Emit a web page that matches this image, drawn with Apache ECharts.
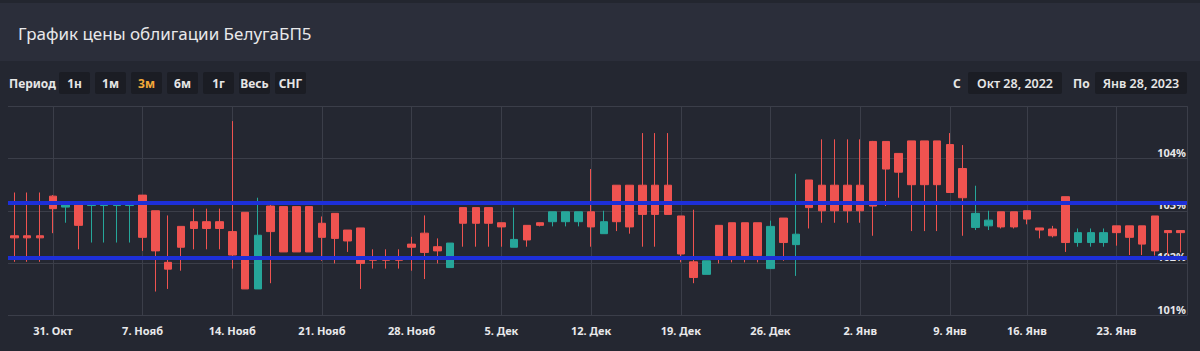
<!DOCTYPE html>
<html>
<head>
<meta charset="utf-8">
<title>График цены облигации БелугаБП5</title>
<script src="https://cdn.jsdelivr.net/npm/echarts@6/dist/echarts.min.js"></script>
<style>
    html, body { margin: 0; padding: 0; background: #242731; }
    #chart { width: 1200px; height: 351px; }
</style>
</head>
<body>
<div id="chart"></div>
<script>
// даты свечей (дневки)
var dates = [
    '2022-10-28', '2022-10-29', '2022-10-30', '2022-10-31',
    '2022-11-01', '2022-11-02', '2022-11-03', '2022-11-04', '2022-11-05', '2022-11-06', '2022-11-07', '2022-11-08', '2022-11-09', '2022-11-10',
    '2022-11-11', '2022-11-12', '2022-11-13', '2022-11-14', '2022-11-15', '2022-11-16', '2022-11-17', '2022-11-18', '2022-11-19', '2022-11-20',
    '2022-11-21', '2022-11-22', '2022-11-23', '2022-11-24', '2022-11-25', '2022-11-26', '2022-11-27', '2022-11-28', '2022-11-29', '2022-11-30',
    '2022-12-01', '2022-12-02', '2022-12-03', '2022-12-04', '2022-12-05', '2022-12-06', '2022-12-07', '2022-12-08', '2022-12-09', '2022-12-10',
    '2022-12-11', '2022-12-12', '2022-12-13', '2022-12-14', '2022-12-15', '2022-12-16', '2022-12-17', '2022-12-18', '2022-12-19', '2022-12-20',
    '2022-12-21', '2022-12-22', '2022-12-23', '2022-12-24', '2022-12-25', '2022-12-26', '2022-12-27', '2022-12-28', '2022-12-29', '2022-12-30',
    '2022-12-31', '2023-01-01', '2023-01-02', '2023-01-03', '2023-01-04', '2023-01-05', '2023-01-06', '2023-01-07', '2023-01-08', '2023-01-09',
    '2023-01-10', '2023-01-11', '2023-01-12', '2023-01-13', '2023-01-15', '2023-01-16', '2023-01-17', '2023-01-18', '2023-01-19', '2023-01-20',
    '2023-01-21', '2023-01-22', '2023-01-23', '2023-01-24', '2023-01-25', '2023-01-26', '2023-01-27', '2023-01-28'
];
var openData = [
    102.52, 102.52, 102.52, 103.28, 103.07, 103.13, 103.10, 103.10, 103.10, 103.10,
    103.30, 103.00, 102.01, 102.70, 102.79, 102.79, 102.79, 102.60, 102.97, 101.50,
    103.09, 103.08, 103.08, 103.08, 102.76, 102.95, 102.63, 102.67, 102.09, 102.09,
    102.09, 102.36, 102.57, 102.31, 101.91, 103.06, 103.06, 103.06, 102.77, 102.30,
    102.72, 102.77, 102.79, 102.79, 102.79, 102.98, 102.56, 103.49, 103.49, 103.49,
    103.49, 103.49, 102.90, 102.02, 101.78, 102.72, 102.77, 102.77, 102.77, 101.89,
    102.86, 102.35, 103.59, 103.49, 103.49, 103.49, 103.49, 104.33, 104.33, 104.10,
    104.34, 104.34, 104.34, 104.27, 103.81, 102.68, 102.71, 102.98, 102.98, 103.00,
    102.67, 102.65, 103.27, 102.39, 102.39, 102.39, 102.71, 102.71, 102.71, 102.90,
    102.62, 102.62
];
var closeData = [
    102.48, 102.48, 102.48, 103.04, 103.11, 102.72, 103.14, 103.14, 103.14, 103.14,
    102.49, 102.23, 101.88, 102.30, 102.66, 102.66, 102.66, 102.15, 101.50, 102.53,
    102.60, 102.21, 102.21, 102.21, 102.49, 102.47, 102.42, 101.99, 102.05, 102.05,
    102.05, 102.30, 102.20, 102.23, 102.38, 102.76, 102.76, 102.76, 102.69, 102.45,
    102.44, 102.72, 102.98, 102.98, 102.98, 102.69, 102.79, 102.79, 102.69, 102.93,
    102.93, 102.93, 102.17, 101.72, 102.04, 102.14, 102.14, 102.14, 102.14, 102.70,
    102.39, 102.55, 103.06, 103.00, 103.00, 103.00, 103.00, 103.09, 103.80, 103.74,
    103.50, 103.50, 103.50, 103.35, 103.25, 102.95, 102.82, 102.69, 102.69, 102.84,
    102.63, 102.52, 102.39, 102.58, 102.58, 102.58, 102.58, 102.49, 102.36, 102.23,
    102.58, 102.58
];
var lowData = [
    102.02, 102.02, 102.02, 102.57, 102.77, 102.26, 102.39, 102.39, 102.39, 102.39,
    102.23, 101.45, 101.50, 101.85, 102.26, 102.26, 102.26, 101.89, 101.50, 101.50,
    101.61, 102.21, 102.21, 102.21, 102.04, 101.99, 102.21, 101.50, 101.89, 101.89,
    101.89, 101.85, 101.69, 101.99, 101.91, 102.31, 102.31, 102.31, 102.31, 102.30,
    102.31, 102.70, 102.70, 102.70, 102.70, 102.31, 102.56, 102.61, 102.56, 102.31,
    102.31, 102.93, 102.01, 101.61, 101.78, 101.99, 102.01, 102.01, 102.01, 101.89,
    102.04, 101.75, 102.66, 102.77, 102.77, 102.77, 102.77, 102.52, 103.09, 103.25,
    102.61, 102.61, 102.61, 103.35, 102.52, 102.63, 102.63, 102.66, 102.66, 102.74,
    102.47, 102.49, 102.21, 102.31, 102.31, 102.31, 102.33, 102.15, 102.15, 102.14,
    102.15, 102.20
];
var highData = [
    103.35, 103.35, 103.35, 103.30, 103.11, 103.13, 103.14, 103.14, 103.14, 103.14,
    103.30, 103.00, 102.91, 102.70, 103.04, 103.04, 103.04, 104.72, 102.97, 103.25,
    103.11, 103.08, 103.08, 103.08, 102.89, 102.95, 102.63, 102.67, 102.26, 102.26,
    102.26, 102.50, 102.91, 102.47, 102.38, 103.06, 103.06, 103.06, 102.77, 103.06,
    102.72, 102.77, 102.98, 102.98, 102.98, 103.80, 103.00, 103.49, 103.49, 104.49,
    104.49, 104.49, 102.90, 103.02, 102.04, 102.72, 102.77, 102.77, 102.77, 102.81,
    102.86, 103.71, 103.59, 104.37, 104.37, 104.37, 104.37, 104.34, 104.33, 104.10,
    104.34, 104.34, 104.34, 104.49, 104.26, 103.48, 103.00, 102.98, 102.98, 103.00,
    102.67, 102.71, 103.27, 102.66, 102.66, 102.66, 102.71, 102.71, 102.71, 102.90,
    102.62, 102.62
];
// подписи оси X - понедельники
var tickDates = [
    '2022-10-31', '2022-11-07', '2022-11-14', '2022-11-21', '2022-11-28', '2022-12-05', '2022-12-12',
    '2022-12-19', '2022-12-26', '2023-01-02', '2023-01-09', '2023-01-16', '2023-01-23'
];
var monthNames = ['Янв', 'Фев', 'Мар', 'Апр', 'Май', 'Июн', 'Июл', 'Авг', 'Сен', 'Окт', 'Нояб', 'Дек'];
var yMin = 101, yMax = 105, yStep = 1;
// уровни (синие линии)
var levelLines = [103.15, 102.09];
var periodButtons = ['1н', '1м', '3м', '6м', '1г', 'Весь', 'СНГ'];
var activePeriod = '3м';
var dateFrom = 'Окт 28, 2022';
var dateTo = 'Янв 28, 2023';

var FONT = '"Noto Sans", "Open Sans", sans-serif';
var UP = '#26a69a', DOWN = '#ef5350';

var candleData = dates.map(function (d, i) {
    return [openData[i], closeData[i], lowData[i], highData[i]];
});

function isTick(index, value) {
    return tickDates.indexOf(value) >= 0;
}

function fmtDate(value) {
    var p = value.split('-');
    return (+p[2]) + '. ' + monthNames[+p[1] - 1];
}

// шапка: заголовок, кнопки периода, даты
var graphics = [
    {type: 'rect', silent: true, z: -10, shape: {x: 0, y: 0, width: 1200, height: 61}, style: {fill: '#2b2e3a'}},
    {type: 'rect', silent: true, z: -10, shape: {x: 0, y: 0, width: 1200, height: 3}, style: {fill: '#23262f'}},
    {type: 'text', x: 18, y: 33, style: {text: 'График цены облигации БелугаБП5', fill: '#e8e8ea',
        font: '17px ' + FONT, textAlign: 'left', textVerticalAlign: 'middle'}},
    {type: 'text', x: 9, y: 83, style: {text: 'Период', fill: '#e6e6e6',
        font: 'bold 12px ' + FONT, textAlign: 'left', textVerticalAlign: 'middle'}}
];
periodButtons.forEach(function (name, k) {
    var bx = 59 + 36 * k;
    graphics.push({type: 'rect', silent: true, shape: {x: bx, y: 72, width: 31, height: 22, r: 2}, style: {fill: '#1b1d24'}});
    graphics.push({type: 'text', x: bx + 15.5, y: 83, style: {text: name, fill: name === activePeriod ? '#f3a93a' : '#e6e6e6',
        font: 'bold 12px ' + FONT, textAlign: 'center', textVerticalAlign: 'middle'}});
});
graphics.push(
    {type: 'text', x: 953, y: 83, style: {text: 'С', fill: '#e6e6e6', font: 'bold 12px ' + FONT, textAlign: 'left', textVerticalAlign: 'middle'}},
    {type: 'rect', silent: true, shape: {x: 968, y: 72, width: 94, height: 22, r: 2}, style: {fill: '#1b1d24'}},
    {type: 'text', x: 1015, y: 83, style: {text: dateFrom, fill: '#e6e6e6', font: '600 12.5px ' + FONT, textAlign: 'center', textVerticalAlign: 'middle'}},
    {type: 'text', x: 1073, y: 83, style: {text: 'По', fill: '#e6e6e6', font: 'bold 12px ' + FONT, textAlign: 'left', textVerticalAlign: 'middle'}},
    {type: 'rect', silent: true, shape: {x: 1095, y: 72, width: 92, height: 22, r: 2}, style: {fill: '#1b1d24'}},
    {type: 'text', x: 1141, y: 83, style: {text: dateTo, fill: '#e6e6e6', font: '600 12.5px ' + FONT, textAlign: 'center', textVerticalAlign: 'middle'}}
);

var chart = echarts.init(document.getElementById('chart'), null, {renderer: 'svg'});
var option = {
    backgroundColor: '#242731',
    animation: false,
    textStyle: {fontFamily: FONT},
    graphic: graphics,
    grid: {left: 8, right: 13, top: 106.5, bottom: 36, containLabel: false, outerBoundsMode: 'none'},
    xAxis: {
        type: 'category',
        data: dates,
        boundaryGap: true,
        axisLine: {show: false},
        axisTick: {show: false},
        axisLabel: {
            interval: isTick,
            formatter: fmtDate,
            color: '#e8e8ea',
            fontSize: 11,
            fontWeight: 'bold',
            margin: 10
        },
        splitLine: {show: true, interval: isTick, alignWithLabel: true, lineStyle: {color: '#3b3e49', width: 1}}
    },
    yAxis: {
        type: 'value',
        position: 'right',
        scale: true,
        min: yMin,
        max: yMax,
        interval: yStep,
        axisLine: {show: true, lineStyle: {color: '#3b3e49'}},
        axisTick: {show: false},
        axisLabel: {
            inside: true,
            margin: 1,
            showMaxLabel: false,
            formatter: '{value}%',
            color: '#e8e8ea',
            fontSize: 11,
            fontWeight: 'bold',
            verticalAlign: 'bottom',
            lineHeight: 12
        },
        splitLine: {show: true, lineStyle: {color: '#3b3e49', width: 1}}
    },
    series: [{
        name: 'БелугаБП5',
        type: 'candlestick',
        data: candleData,
        barWidth: 8,
        itemStyle: {
            color: UP,
            color0: DOWN,
            borderColor: UP,
            borderColor0: DOWN,
            borderWidth: 1
        },
        markLine: {
            silent: true,
            symbol: 'none',
            label: {show: false},
            lineStyle: {color: '#1d2fd8', width: 4, type: 'solid'},
            data: levelLines.map(function (v) { return {yAxis: v}; })
        }
    }]
};
chart.setOption(option);
</script>
</body>
</html>
